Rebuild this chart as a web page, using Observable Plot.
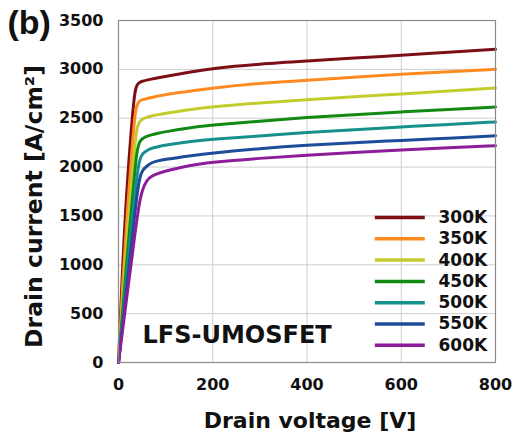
<!DOCTYPE html>
<html>
<head>
<meta charset="utf-8">
<script src="https://cdn.jsdelivr.net/npm/d3@7"></script>
<script src="https://cdn.jsdelivr.net/npm/@observablehq/plot@0.6"></script>
<style>
  html, body { margin: 0; padding: 0; background: #fff; }
</style>
</head>
<body>
<div id="chart"></div>
<script>
// Drain voltage sample points [V]
const voltage = [0, 10, 20, 30, 35, 40, 45, 50, 60, 70, 80, 100, 150, 200, 300, 400, 500, 600, 700, 800];

// Drain current [A/cm²] per temperature
const i300K = [0, 1150, 1950, 2560, 2790, 2850, 2866, 2878, 2890, 2900, 2910, 2928, 2970, 3010, 3055, 3085, 3115, 3145, 3175, 3205];
const i350K = [0, 900, 1650, 2250, 2560, 2650, 2678, 2690, 2700, 2713, 2723, 2745, 2775, 2810, 2858, 2890, 2920, 2950, 2975, 3000];
const i400K = [0, 720, 1400, 1960, 2250, 2420, 2468, 2490, 2510, 2523, 2533, 2550, 2588, 2617, 2657, 2690, 2720, 2748, 2778, 2808];
const i450K = [0, 600, 1180, 1700, 1990, 2190, 2262, 2290, 2315, 2330, 2342, 2362, 2402, 2430, 2470, 2508, 2537, 2564, 2590, 2615];
const i500K = [0, 510, 1010, 1500, 1740, 1940, 2080, 2135, 2170, 2192, 2205, 2225, 2260, 2285, 2318, 2355, 2383, 2410, 2437, 2462];
const i550K = [0, 440, 880, 1320, 1540, 1740, 1890, 1965, 2010, 2045, 2060, 2080, 2115, 2145, 2190, 2225, 2250, 2272, 2296, 2320];
const i600K = [0, 380, 760, 1130, 1320, 1500, 1650, 1760, 1870, 1905, 1928, 1960, 2018, 2052, 2090, 2122, 2150, 2175, 2197, 2218];

const temps = ["300K", "350K", "400K", "450K", "500K", "550K", "600K"];
const series = [i300K, i350K, i400K, i450K, i500K, i550K, i600K];
const colors = ["#7d0f16", "#ff8a1f", "#c3cc2c", "#128a14", "#16908c", "#1d4c98", "#8c1c9a"];

const xTicks = [0, 200, 400, 600, 800];
const yTicks = [0, 500, 1000, 1500, 2000, 2500, 3000, 3500];

const xLabel = "Drain voltage [V]";
const yLabel = "Drain current [A/cm²]";
const panelLabel = "(b)";
const deviceLabel = "LFS-UMOSFET";

// long-format table built from the arrays
const data = [];
temps.forEach((t, k) => voltage.forEach((v, j) => data.push({T: t, V: v, I: series[k][j]})));

// legend layout (in data units, placed lower right inside the frame)
const legend = temps.map((t, i) => ({T: t, y: 1484 - i * 218}));

const font = "DejaVu Sans, Verdana, sans-serif";

const chart = Plot.plot({
  width: 516,
  height: 441,
  marginLeft: 118,
  marginRight: 21,
  marginTop: 20,
  marginBottom: 79,
  style: {fontFamily: font, fontWeight: "bold", color: "#111", background: "#fff"},
  x: {domain: [0, 800]},
  y: {domain: [0, 3500]},
  color: {domain: temps, range: colors},
  marks: [
    Plot.gridX(xTicks, {stroke: "#cfcfcf", strokeOpacity: 1, strokeWidth: 1}),
    Plot.gridY(yTicks, {stroke: "#cfcfcf", strokeOpacity: 1, strokeWidth: 1}),
    Plot.axisX(xTicks, {tickSize: 0, tickPadding: 16, fontSize: 16, label: null, tickFormat: d => String(d)}),
    Plot.axisY(yTicks, {tickSize: 0, tickPadding: 15, fontSize: 16, label: null, tickFormat: d => String(d)}),
    Plot.line(data, {x: "V", y: "I", z: "T", stroke: "T", strokeWidth: 3, curve: "basis"}),
    Plot.frame({stroke: "#8a8a8a", strokeWidth: 1.2}),
    Plot.ruleY(legend, {y: "y", x1: 545, x2: 651, stroke: "T", strokeWidth: 3.5}),
    Plot.text(legend, {x: 679, y: "y", text: "T", textAnchor: "start", lineAnchor: "middle", fontSize: 17, fontWeight: "bold", fill: "#111"}),
    Plot.text([deviceLabel], {x: 51, y: 276, text: d => d, textAnchor: "start", lineAnchor: "middle", fontSize: 24, fontWeight: "bold", fill: "#111"}),
    Plot.text([xLabel], {frameAnchor: "bottom", textAnchor: "middle", lineAnchor: "middle", dx: 3, dy: 58, text: d => d, fontSize: 22, fontWeight: "bold", fill: "#111"}),
    Plot.text([yLabel], {frameAnchor: "left", textAnchor: "middle", lineAnchor: "middle", dx: -84, dy: 15, rotate: -90, text: d => d, fontSize: 23.5, fontWeight: "bold", fill: "#111"}),
    Plot.text([panelLabel], {frameAnchor: "top-left", textAnchor: "start", lineAnchor: "middle", dx: -111, dy: 3, text: d => d, fontSize: 34, fontWeight: "bold", fontFamily: "Liberation Sans, Arial, sans-serif", fill: "#111"})
  ]
});

document.getElementById("chart").appendChild(chart);
</script>
</body>
</html>
